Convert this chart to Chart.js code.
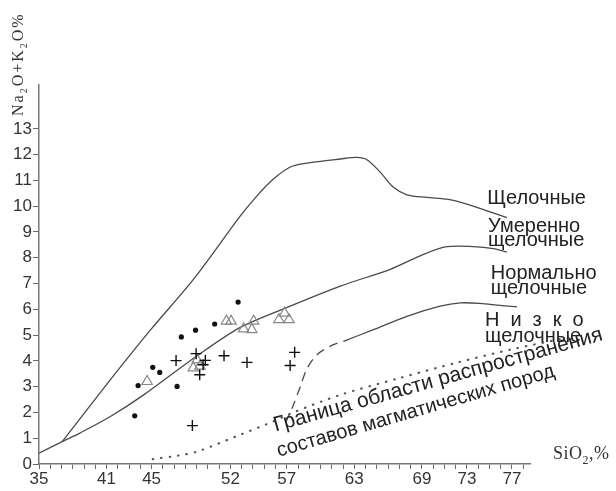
<!DOCTYPE html>
<html>
<head>
<meta charset="utf-8">
<script src="https://cdn.jsdelivr.net/npm/chart.js@4/dist/chart.umd.min.js"></script>
<style>
  html, body { margin: 0; padding: 0; background: #fff; }
  #wrap { width: 616px; height: 491px; }
</style>
</head>
<body>
<div id="wrap"><canvas id="c" width="616" height="491"></canvas></div>
<script>
// Tick labels
const xTickLabels = [35, 41, 45, 52, 57, 63, 69, 73, 77];
const yTickLabels = [0, 1, 2, 3, 4, 5, 6, 7, 8, 9, 10, 11, 12, 13];

// Field boundaries (SiO2 %, Na2O+K2O %)
const alkalineBoundary = [
  [37.06, 0.87], [41.34, 3.27], [44.9, 5.2], [48.71, 7.16],
  [52.88, 9.62], [54.36, 10.40], [55.81, 11.05], [57.32, 11.52], [58.8, 11.67],
  [61.75, 11.83], [63.23, 11.89], [64.12, 11.80], [65.3, 11.32], [66.45, 10.74],
  [67.67, 10.44], [69.45, 10.34], [71.22, 10.27], [73.0, 10.08], [74.77, 9.82],
  [76.54, 9.56]
];
const moderateBoundary = [
  [35.0, 0.42], [37.06, 0.87], [38.68, 1.21], [41.34, 1.84], [44.3, 2.68],
  [48.89, 4.15], [52.88, 5.3], [57.3, 6.12], [61.75, 6.9], [66.19, 7.55],
  [69.14, 8.13], [71.22, 8.43], [73.58, 8.43], [75.35, 8.35], [76.54, 8.22]
];
const lowBoundarySolid = [
  [62.04, 4.76], [64.7, 5.21], [67.67, 5.73], [70.63, 6.12], [72.4, 6.25],
  [74.17, 6.23], [75.95, 6.15], [77.43, 6.10]
];
const lowBoundaryDashed = [
  [56.9, 1.6], [57.6, 2.3], [58.2, 3.0], [58.8, 3.7], [59.69, 4.24],
  [61.0, 4.6], [62.04, 4.76]
];
const rockFieldLimit = [
  [45.1, 0.19], [47.4, 0.33], [49.04, 0.48], [52.9, 1.14], [55.8, 1.65],
  [57.3, 1.95], [61.75, 2.68], [67.0, 3.33], [72.0, 3.92], [77.0, 4.45], [82.5, 4.95]
];

// Samples
const dotSamples = [
  [52.68, 6.28], [50.6, 5.43], [48.9, 5.19], [47.64, 4.93], [45.1, 3.75],
  [45.72, 3.55], [43.8, 3.04], [47.26, 3.01], [43.5, 1.87]
];
const crossSamples = [
  [47.17, 4.01], [48.95, 4.28], [49.77, 4.02], [49.57, 3.85], [49.27, 3.46],
  [51.43, 4.20], [53.47, 3.94], [57.7, 4.33], [57.3, 3.82], [48.62, 1.49]
];
const triangleSamples = [
  [44.6, 3.2], [51.64, 5.54], [52.05, 5.54], [53.17, 5.24], [54.06, 5.54],
  [53.9, 5.21], [56.3, 5.6], [56.8, 5.85], [57.2, 5.6], [49.05, 4.04],
  [48.7, 3.73], [49.3, 3.8]
];

// Field names
const fieldLabels = [
  { text: 'Щелочные', x: 74.8, y: 10.08 },
  { text: 'Умеренно', x: 74.88, y: 8.99 },
  { text: 'щелочные', x: 74.88, y: 8.44 },
  { text: 'Нормально', x: 75.12, y: 7.16 },
  { text: 'щелочные', x: 75.12, y: 6.61 },
  { text: 'Низко', x: 74.6, y: 5.37, spacing: 11 },
  { text: 'щелочные', x: 74.6, y: 4.75 }
];
const limitLabels = [
  { text: 'Граница области распространения', x: 56.0, y: 1.26, angle: -15.6, size: 21 },
  { text: 'составов магматических пород', x: 56.28, y: 0.28, angle: -16.2, size: 20 }
];

const toXY = arr => arr.map(p => ({ x: p[0], y: p[1] }));
const LINE = '#4a4a4a';
const SANS = '"Liberation Sans", Arial, sans-serif';
const SERIF = '"Liberation Serif", "Times New Roman", serif';

// Draws text with subscripts along the current x direction
function drawRich(ctx, parts, size, gap) {
  let x = 0;
  for (const p of parts) {
    const s = p.sub ? Math.round(size * 0.65) : size;
    ctx.font = s + 'px ' + SERIF;
    for (const ch of p.t) {
      ctx.fillText(ch, x, p.sub ? size * 0.28 : 0);
      x += ctx.measureText(ch).width + gap;
    }
  }
}

const annotations = {
  id: 'annotations',
  afterDatasetsDraw(chart) {
    const ctx = chart.ctx;
    const xs = chart.scales.x, ys = chart.scales.y;
    ctx.save();
    ctx.fillStyle = '#222';
    ctx.textBaseline = 'alphabetic';
    ctx.textAlign = 'left';
    ctx.font = '20px ' + SANS;
    for (const l of fieldLabels) {
      let px = xs.getPixelForValue(l.x);
      const py = ys.getPixelForValue(l.y);
      if (l.spacing) {
        for (const ch of l.text) {
          ctx.fillText(ch, px, py);
          px += ctx.measureText(ch).width + l.spacing;
        }
      } else {
        ctx.fillText(l.text, px, py);
      }
    }
    for (const l of limitLabels) {
      ctx.save();
      ctx.font = l.size + 'px ' + SANS;
      ctx.translate(xs.getPixelForValue(l.x), ys.getPixelForValue(l.y));
      ctx.rotate(l.angle * Math.PI / 180);
      ctx.fillText(l.text, 0, 0);
      ctx.restore();
    }
    // axis titles
    ctx.fillStyle = '#333';
    ctx.save();
    ctx.translate(23, 116);
    ctx.rotate(-Math.PI / 2);
    drawRich(ctx, [{ t: 'Na' }, { t: '2', sub: true }, { t: 'O+K' }, { t: '2', sub: true }, { t: 'O%' }], 16, 2);
    ctx.restore();
    ctx.save();
    ctx.translate(553, 459);
    drawRich(ctx, [{ t: 'SiO' }, { t: '2', sub: true }, { t: ',%' }], 18, 0.5);
    ctx.restore();
    ctx.restore();
  }
};

const curve = (data, extra) => Object.assign({
  data: toXY(data), showLine: true, pointRadius: 0, borderColor: LINE,
  borderWidth: 1.3, tension: 0.3, fill: false
}, extra || {});

new Chart(document.getElementById('c'), {
  type: 'scatter',
  data: {
    datasets: [
      { data: toXY(dotSamples), pointStyle: 'circle', pointRadius: 2.6,
        backgroundColor: '#111', borderColor: '#111', borderWidth: 0 },
      { data: toXY(crossSamples), pointStyle: 'cross', pointRadius: 5.5,
        borderColor: '#111', borderWidth: 1.4 },
      { data: toXY(triangleSamples), pointStyle: 'triangle', pointRadius: 6,
        borderColor: '#8a8a8a', backgroundColor: 'rgba(255,255,255,0)', borderWidth: 1.2 },
      curve(alkalineBoundary),
      curve(moderateBoundary),
      curve(lowBoundarySolid),
      curve(lowBoundaryDashed, { borderDash: [9, 6] }),
      curve(rockFieldLimit, { borderDash: [0.5, 8], borderWidth: 2.2, borderCapStyle: 'round',
        borderColor: '#555', clip: false })
    ]
  },
  options: {
    responsive: false,
    animation: false,
    devicePixelRatio: 1,
    layout: { padding: { top: 85, right: 86, left: 0, bottom: 0 } },
    plugins: { legend: { display: false }, tooltip: { enabled: false } },
    scales: {
      x: {
        type: 'linear', min: 35, max: 78.6,
        afterBuildTicks: s => { s.ticks = []; for (let v = 35; v <= 78; v++) s.ticks.push({ value: v }); },
        afterFit: s => { s.height = 27; },
        ticks: {
          autoSkip: false, maxRotation: 0, padding: 0, color: '#333',
          font: { family: SANS, size: 17 },
          callback: v => xTickLabels.includes(v) ? String(v) : ''
        },
        grid: { drawOnChartArea: false, tickLength: 5, color: '#666', tickWidth: 1 },
        border: { color: '#777', width: 1.5 }
      },
      y: {
        type: 'linear', min: 0, max: 14.7,
        afterBuildTicks: s => { s.ticks = yTickLabels.map(v => ({ value: v })); },
        afterFit: s => { s.width = 39; },
        ticks: {
          autoSkip: false, padding: 1, color: '#333',
          font: { family: SANS, size: 17 },
          callback: v => String(v)
        },
        grid: { drawOnChartArea: false, tickLength: 6, color: '#666', tickWidth: 1 },
        border: { color: '#777', width: 1.5 }
      }
    }
  },
  plugins: [annotations]
});
</script>
</body>
</html>
